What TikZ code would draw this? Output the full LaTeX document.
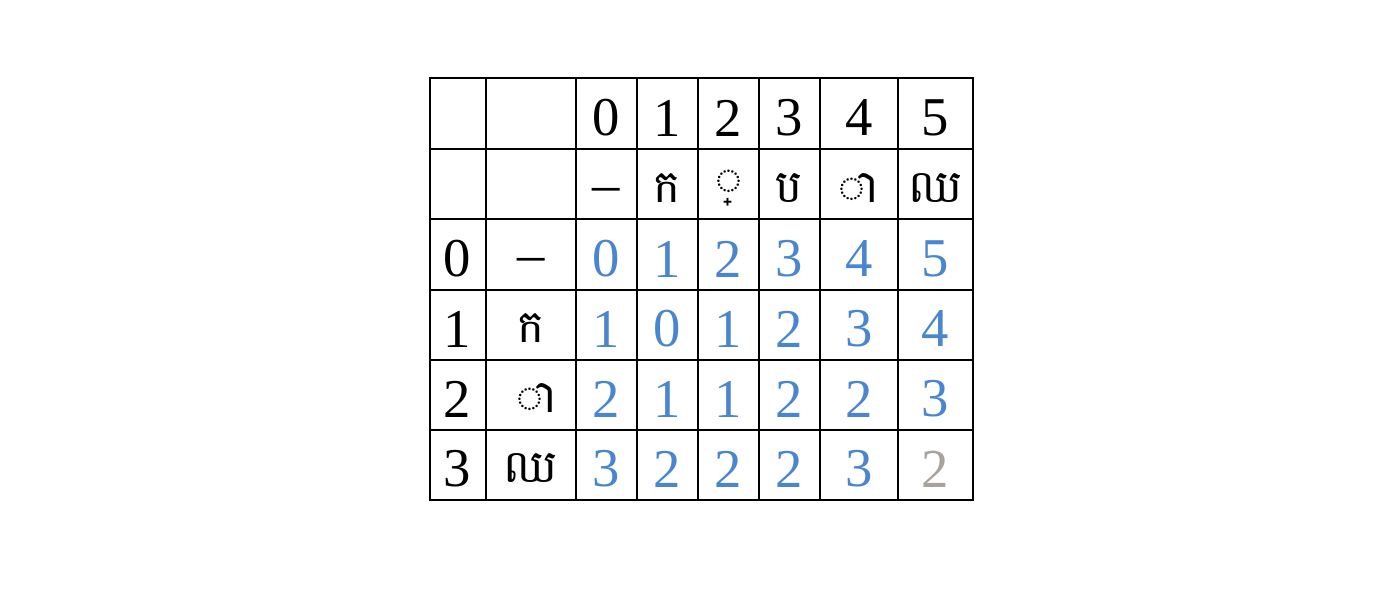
\documentclass[tikz,border=0pt]{standalone}
\usepackage{fontspec}
\setmainfont{Liberation Serif}
\newfontfamily\khmerfont[Script=Khmer]{Battambang}
\definecolor{cellblue}{RGB}{74,134,208}
\definecolor{cellgray}{RGB}{168,163,156}
\tikzset{every picture/.style={line width=0.9pt}}
\tikzset{
  digit/.style={font=\fontsize{41}{48}\selectfont, inner sep=0pt},
  dashsign/.style={digit, anchor=base},
  khmer/.style={font=\khmerfont\fontsize{34}{40}\selectfont, inner sep=0pt},
  cost/.style={digit, text=cellblue}
}
\begin{document}
\begin{tikzpicture}[x=0.75pt,y=0.75pt,yscale=-1,xscale=1]
	\path[use as bounding box] (0,0) rectangle (1400,602);

	%Shape: Table grid
	\draw (430,78) rectangle (973,500);
	\foreach \x in {486,576,637,698,759,820,898}
		\draw (\x,78) -- (\x,500);
	\foreach \y in {149,219,290,360,430}
		\draw (430,\y) -- (973,\y);

	% Text Node: column indices
	\foreach \n/\x in {0/606.5,1/667.5,2/728.5,3/789.5,4/859,5/935.5}
		\node[digit] (h\n) at (\x,118) {\n};
	% Text Node: column letters
	\node[dashsign] (c0) at (606.5,203) {–};
	\node[khmer] (c1) at (667.5,188) {ក};
	\node[khmer] (c2) at (728.5,188) {◌្};
	\node[khmer] (c3) at (789.5,188) {ប};
	\node[khmer] (c4) at (859,188) {◌ា};
	\node[khmer] (c5) at (935.5,188) {ឈ};

	% Text Node: row indices
	\foreach \n/\y in {0/259,1/329,2/399,3/469}
		\node[digit] (r\n) at (457,\y) {\n};
	% Text Node: row letters
	\node[dashsign] (s0) at (531,273) {–};
	\node[khmer] (s1) at (531,328) {ក};
	\node[khmer] (s2) at (537,398) {◌ា};
	\node[khmer] (s3) at (531,468) {ឈ};

	% Text Node: distances
	\foreach \i/\y/\row in {0/259/{0,1,2,3,4,5},1/329/{1,0,1,2,3,4},2/399/{2,1,1,2,2,3},3/469/{3,2,2,2,3,2}}
		\foreach \v [count=\j from 0] in \row {
			\pgfmathsetmacro{\xc}{{606.5,667.5,728.5,789.5,859,935.5}[\j]}
			\node[cost] (v\i\j) at (\xc,\y) {\v};
		}
	% Text Node: result
	\node[digit, text=cellgray, fill=white] (v35) at (935.5,469) {2};

\end{tikzpicture}
\end{document}
